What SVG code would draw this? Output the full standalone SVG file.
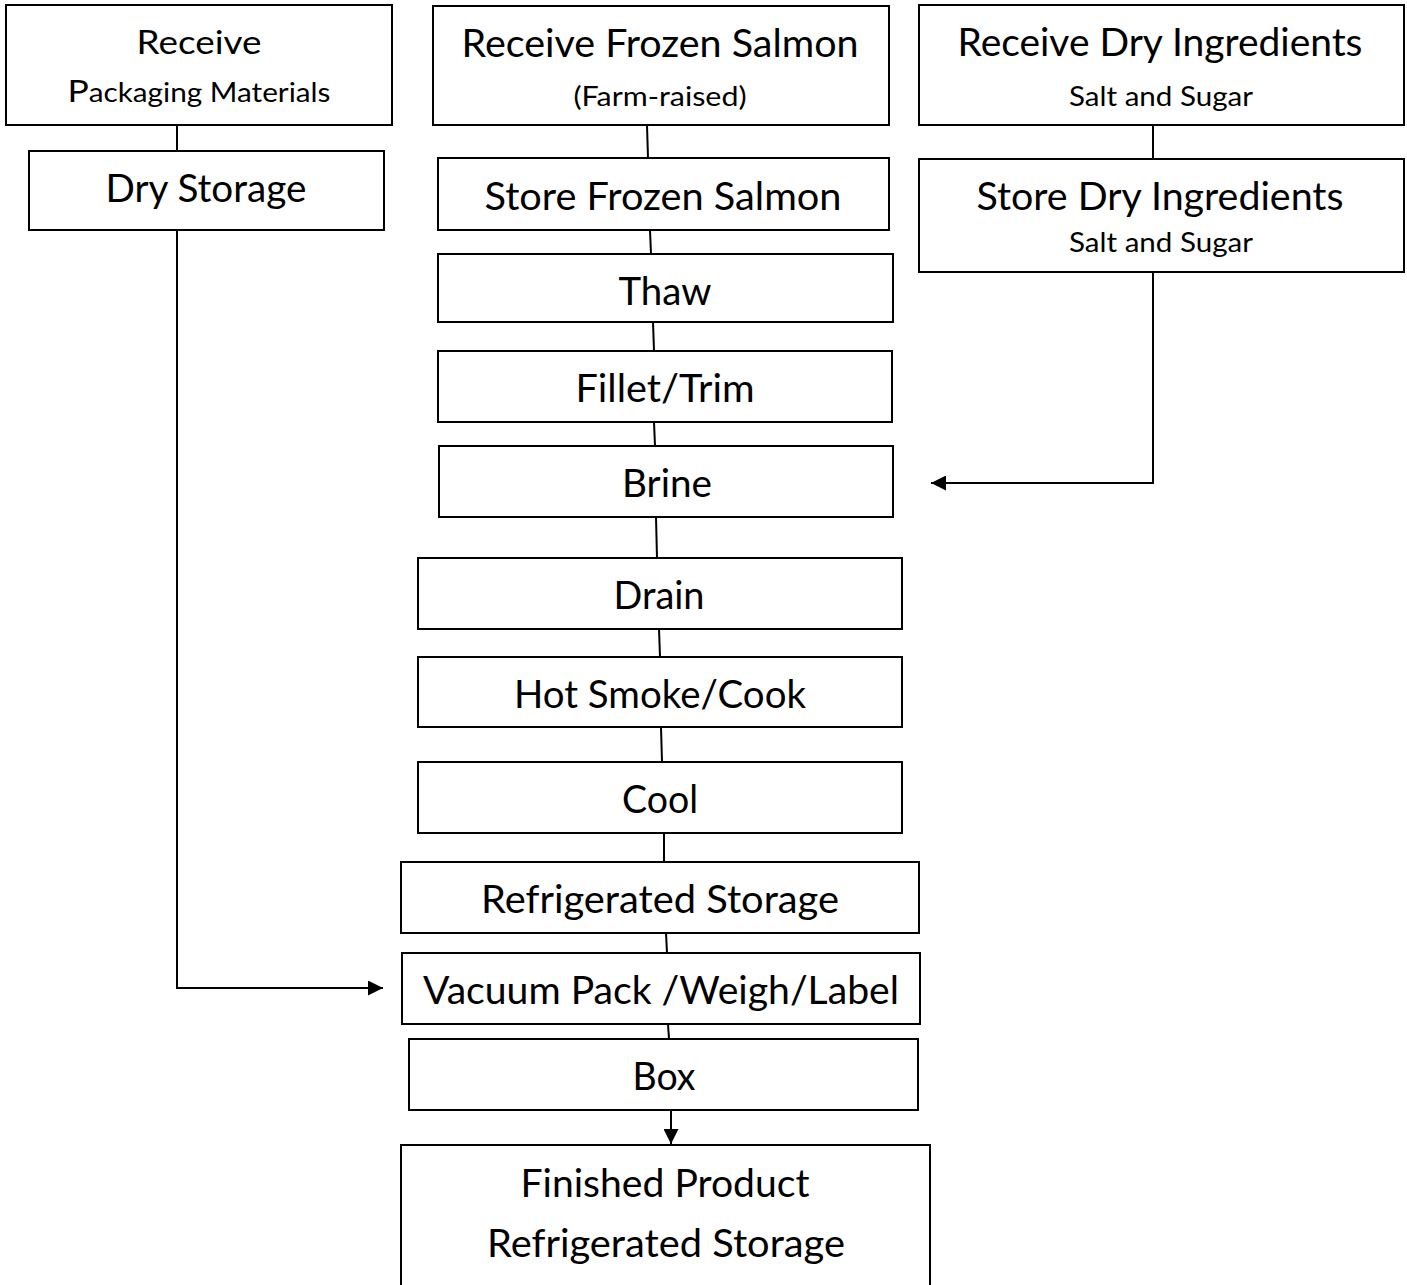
<svg xmlns="http://www.w3.org/2000/svg" width="1407" height="1285" viewBox="0 0 1407 1285">
<defs>
<style>
.box{fill:#fff;stroke:#000;stroke-width:2}
.t{font-family:Lato,Carlito,"Open Sans",sans-serif;fill:#000;text-anchor:middle}
.big{font-size:38px}
.sm{font-size:27px}
.ln{fill:none;stroke:#000;stroke-width:2}
</style>
<marker id="ah" viewBox="0 0 10 10" refX="10" refY="5" markerWidth="7.5" markerHeight="7.5" markerUnits="strokeWidth" orient="auto">
<path d="M0,0 L10,5 L0,10 z" fill="#000"/>
</marker>
</defs>
<rect width="1407" height="1285" fill="#fff"/>
<g id="connectors">
<line class="ln" x1="177" y1="125" x2="177" y2="151"/>
<polyline class="ln" points="177,230 177,988 383,988" marker-end="url(#ah)"/>
<line class="ln" x1="647" y1="125" x2="648" y2="158"/>
<line class="ln" x1="650" y1="230" x2="651" y2="254"/>
<line class="ln" x1="653" y1="322" x2="654" y2="351"/>
<line class="ln" x1="654" y1="422" x2="655" y2="446"/>
<line class="ln" x1="656" y1="517" x2="657" y2="558"/>
<line class="ln" x1="659" y1="629" x2="660" y2="657"/>
<line class="ln" x1="661" y1="727" x2="662" y2="762"/>
<line class="ln" x1="664" y1="833" x2="664" y2="862"/>
<line class="ln" x1="666" y1="933" x2="667" y2="953"/>
<line class="ln" x1="668" y1="1024" x2="669" y2="1039"/>
<line class="ln" x1="671" y1="1110" x2="671" y2="1144" marker-end="url(#ah)"/>
<line class="ln" x1="1153" y1="125" x2="1153" y2="159"/>
<polyline class="ln" points="1153,272 1153,483 931,483" marker-end="url(#ah)"/>
</g>
<g id="n-receive-packaging">
<rect class="box" x="6" y="5" width="386" height="120"/>
<text class="t" x="199" y="54" font-size="32" textLength="125" lengthAdjust="spacingAndGlyphs">Receive</text>
<text class="t" x="199" y="102" font-size="26" textLength="263" lengthAdjust="spacingAndGlyphs"><tspan font-size="31">P</tspan>ackaging Materials</text>
</g>
<g id="n-dry-storage">
<rect class="box" x="29" y="151" width="355" height="79"/>
<text class="t big" x="206" y="202" textLength="201" lengthAdjust="spacingAndGlyphs">Dry Storage</text>
</g>
<g id="n-receive-salmon">
<rect class="box" x="433" y="6" width="456" height="119"/>
<text class="t big" x="660" y="57" textLength="397" lengthAdjust="spacingAndGlyphs">Receive Frozen Salmon</text>
<text class="t sm" x="660" y="106" textLength="173" lengthAdjust="spacingAndGlyphs">(Farm-raised)</text>
</g>
<g id="n-store-salmon">
<rect class="box" x="438" y="158" width="451" height="72"/>
<text class="t big" x="663" y="210" textLength="357" lengthAdjust="spacingAndGlyphs">Store Frozen Salmon</text>
</g>
<g id="n-receive-dry">
<rect class="box" x="919" y="5" width="485" height="120"/>
<text class="t big" x="1160" y="56" textLength="405" lengthAdjust="spacingAndGlyphs">Receive Dry Ingredients</text>
<text class="t sm" x="1161" y="106" textLength="184" lengthAdjust="spacingAndGlyphs">Salt and Sugar</text>
</g>
<g id="n-store-dry">
<rect class="box" x="919" y="159" width="485" height="113"/>
<text class="t big" x="1160" y="210" textLength="367" lengthAdjust="spacingAndGlyphs">Store Dry Ingredients</text>
<text class="t sm" x="1161" y="252" textLength="184" lengthAdjust="spacingAndGlyphs">Salt and Sugar</text>
</g>
<g id="n-thaw">
<rect class="box" x="438" y="254" width="455" height="68"/>
<text class="t big" x="665" y="305" textLength="93" lengthAdjust="spacingAndGlyphs">Thaw</text>
</g>
<g id="n-fillet">
<rect class="box" x="438" y="351" width="454" height="71"/>
<text class="t big" x="665" y="402" textLength="179" lengthAdjust="spacingAndGlyphs">Fillet/Trim</text>
</g>
<g id="n-brine">
<rect class="box" x="439" y="446" width="454" height="71"/>
<text class="t big" x="667" y="497" textLength="90" lengthAdjust="spacingAndGlyphs">Brine</text>
</g>
<g id="n-drain">
<rect class="box" x="418" y="558" width="484" height="71"/>
<text class="t big" x="659" y="609" textLength="91" lengthAdjust="spacingAndGlyphs">Drain</text>
</g>
<g id="n-hot-smoke">
<rect class="box" x="418" y="657" width="484" height="70"/>
<text class="t big" x="660" y="708" textLength="292" lengthAdjust="spacingAndGlyphs">Hot Smoke/Cook</text>
</g>
<g id="n-cool">
<rect class="box" x="418" y="762" width="484" height="71"/>
<text class="t big" x="660" y="813" textLength="76" lengthAdjust="spacingAndGlyphs">Cool</text>
</g>
<g id="n-refrig">
<rect class="box" x="401" y="862" width="518" height="71"/>
<text class="t big" x="660" y="913" textLength="358" lengthAdjust="spacingAndGlyphs">Refrigerated Storage</text>
</g>
<g id="n-vacuum">
<rect class="box" x="402" y="953" width="518" height="71"/>
<text class="t big" x="661" y="1004" textLength="476" lengthAdjust="spacingAndGlyphs">Vacuum Pack /Weigh/Label</text>
</g>
<g id="n-box">
<rect class="box" x="409" y="1039" width="509" height="71"/>
<text class="t big" x="664" y="1090" textLength="63" lengthAdjust="spacingAndGlyphs">Box</text>
</g>
<g id="n-finished">
<rect class="box" x="401" y="1145" width="529" height="150"/>
<text class="t big" x="665" y="1197" textLength="289" lengthAdjust="spacingAndGlyphs">Finished Product</text>
<text class="t big" x="666" y="1257" textLength="358" lengthAdjust="spacingAndGlyphs">Refrigerated Storage</text>
</g>
</svg>
